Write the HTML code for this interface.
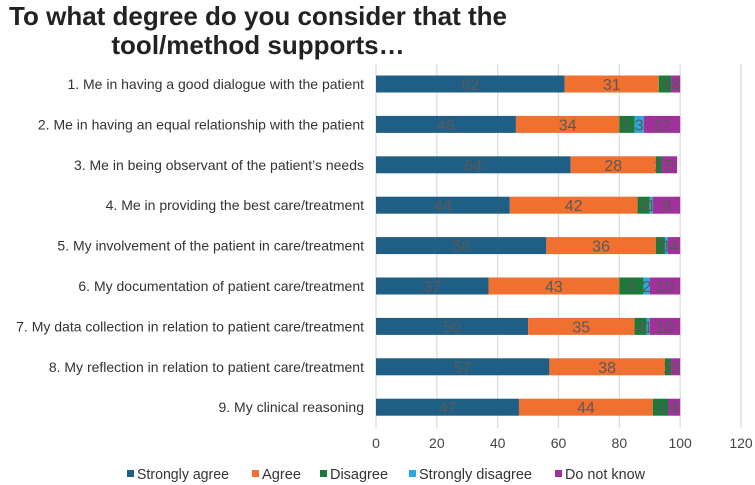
<!DOCTYPE html>
<html><head><meta charset="utf-8">
<style>
body{margin:0;background:#fff;font-family:"Liberation Sans",Arial,sans-serif;}
#wrap{position:relative;width:755px;height:485px;overflow:hidden;}
.title{position:absolute;left:0;width:516px;text-align:center;font-weight:bold;font-size:26px;color:#222;line-height:29px;}
</style></head>
<body>
<div id="wrap">
<div class="title" style="top:2px;">To what degree do you consider that the<br>tool/method supports…</div>
<svg id="svg" width="755" height="485" style="position:absolute;left:0;top:0"></svg>
</div>
<script>
const categories=["1. Me in having a good dialogue with the patient","2. Me in having an equal relationship with the patient","3. Me in being observant of the patient’s needs","4. Me in providing the best care/treatment","5. My involvement of the patient in care/treatment","6. My documentation of patient care/treatment","7. My data collection in relation to patient care/treatment","8. My reflection in relation to patient care/treatment","9. My clinical reasoning"];
const seriesNames=["Strongly agree","Agree","Disagree","Strongly disagree","Do not know"];
const stronglyAgree=[62,46,64,44,56,37,50,57,47];
const agree=[31,34,28,42,36,43,35,38,44];
const disagree=[4,5,2,4,3,8,4,2,5];
const stronglyDisagree=[0,3,0,1,1,2,1,0,0];
const doNotKnow=[3,12,5,9,4,10,10,3,4];
const ticks=[0,20,40,60,80,100,120];
const colors=["#1f5f86","#f07030","#1a7a3a","#2aa8e0","#a0309a"];
const series=[stronglyAgree,agree,disagree,stronglyDisagree,doNotKnow];
const NS="http://www.w3.org/2000/svg";
const svg=document.getElementById('svg');
const x0=376,x1=741,yTop=64,yBot=428,rowH=40.4,barH=17;
const xs=v=>x0+(x1-x0)*v/120;
const yc=i=>84+i*rowH;
function mk(t,a){const e=document.createElementNS(NS,t);for(const k in a)e.setAttribute(k,a[k]);svg.appendChild(e);return e;}
ticks.forEach(t=>{
 const l=mk('line',{x1:xs(t),x2:xs(t),y1:yTop,y2:yBot,stroke:'#d9d9d9','stroke-width':1.2});
 
 
 const tx=mk('text',{x:xs(t),y:448,'text-anchor':'middle','font-size':14,fill:'#444'});
 tx.textContent=t;
 
 
});
categories.forEach((c,i)=>{
 const tx=mk('text',{x:364,y:yc(i)+5,'text-anchor':'end','font-size':14,fill:'#333'});
 tx.textContent=c;
 
 
 let acc=0;
 series.forEach((s,k)=>{
  const v=s[i];
  if(v>0){
   const r=mk('rect',{x:xs(acc),y:yc(i)-barH/2,width:xs(acc+v)-xs(acc),height:barH,fill:colors[k]});
   
   
   const lt=mk('text',{x:(xs(acc)+xs(acc+v))/2,y:yc(i)+6,'text-anchor':'middle','font-size':16,fill:'#595959'});
   lt.textContent=v;
   
   
  }
  acc+=v;
 });
});
const lx=[127,252,320,409,555];
const lw=[92,39,58,113,80];
seriesNames.forEach((n,k)=>{
 const r=mk('rect',{x:lx[k],y:470,width:7,height:7,fill:colors[k]});
 
 
 const t=mk('text',{x:lx[k]+10,y:479,'font-size':15,fill:'#333',textLength:lw[k],lengthAdjust:'spacingAndGlyphs'});
 t.textContent=n;
 
 
});
</script>
</body></html>
